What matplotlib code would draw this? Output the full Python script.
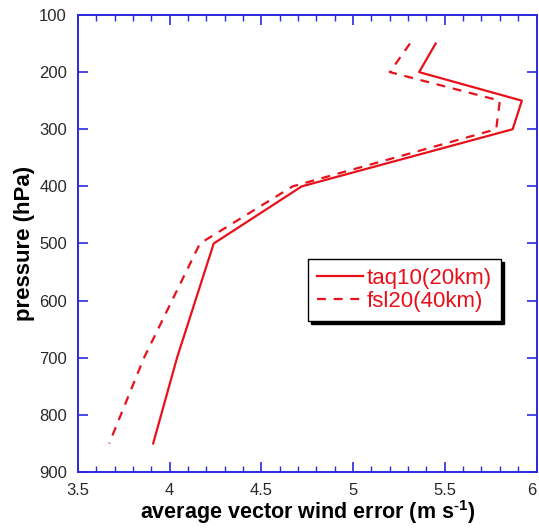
import matplotlib
matplotlib.use("Agg")
import matplotlib.pyplot as plt
from matplotlib.ticker import MultipleLocator, FuncFormatter

plt.rcParams['font.family'] = ['Liberation Sans', 'DejaVu Sans']

pressure = [150, 200, 250, 300, 400, 500, 700, 850]
taq10 = [5.45, 5.36, 5.92, 5.87, 4.72, 4.24, 4.04, 3.91]
fsl20 = [5.31, 5.20, 5.80, 5.78, 4.67, 4.165, 3.86, 3.67]
labels = ["taq10(20km)", "fsl20(40km)"]

axis_blue = '#2a2ae0'
red = '#e8101a'

fig = plt.figure(figsize=(5.39, 5.31), dpi=100)
ax = fig.add_axes([0.1447, 0.1111, 0.8507, 0.8607])

ax.plot(taq10, pressure, color=red, lw=1.6, label=labels[0])
ax.plot(fsl20, pressure, color=red, lw=1.6, dashes=(4, 3.5), label=labels[1])

ax.set_xlim(3.5, 6)
ax.set_ylim(900, 100)
ax.xaxis.set_major_locator(MultipleLocator(0.5))
ax.xaxis.set_minor_locator(MultipleLocator(0.1))
ax.yaxis.set_major_locator(MultipleLocator(100))
ax.xaxis.set_major_formatter(FuncFormatter(lambda v, p: f'{v:g}'))
ax.yaxis.set_major_formatter(FuncFormatter(lambda v, p: f'{v:g}'))

for s in ax.spines.values():
    s.set_color(axis_blue)
    s.set_linewidth(1.4)
ax.tick_params(axis='both', which='both', direction='in', color=axis_blue,
               top=True, right=True, labelsize=12, labelcolor='#2a2a2a')
ax.tick_params(which='major', length=7, width=1.2, pad=8)
ax.tick_params(which='minor', length=4, width=1.0)

ax.set_xlabel('average vector wind error (m s$^{\\mathregular{\u2010 1}}$)',
              fontsize=15.5, fontweight='bold', labelpad=0)
ax.set_ylabel('pressure (hPa)', fontsize=16, fontweight='bold', labelpad=3)

fig.canvas.draw()
for lab in ax.get_xticklabels():
    if lab.get_text() == '6':
        lab.set_horizontalalignment('right')

leg = ax.legend(loc='upper left', bbox_to_anchor=(0.502, 0.466), fontsize=16,
                frameon=True, fancybox=False, shadow={'color': 'black', 'alpha': 1},
                handlelength=2.05, handletextpad=0.2, borderpad=0.4,
                labelspacing=0.1, borderaxespad=0)
leg.get_frame().set_edgecolor('black')
leg.get_frame().set_linewidth(1.0)
for t in leg.get_texts():
    t.set_color(red)

fig.savefig('out.png', dpi=100)
